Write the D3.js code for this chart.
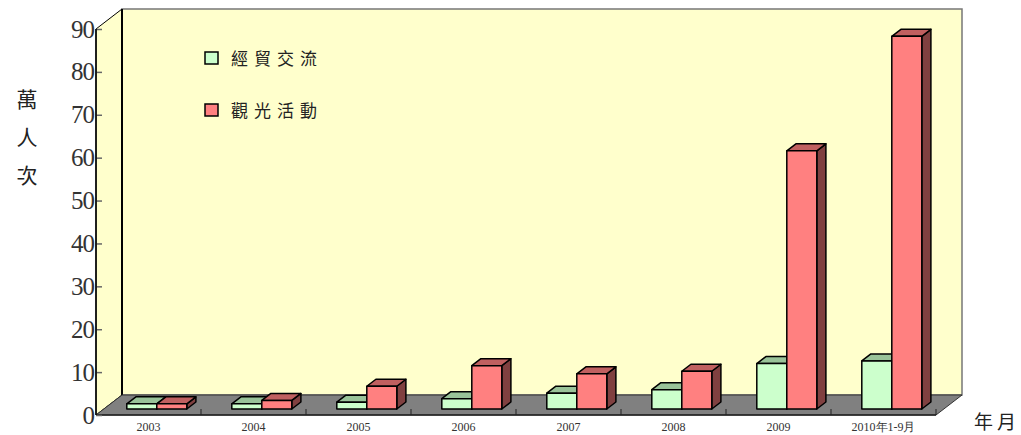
<!DOCTYPE html>
<html>
<head>
<meta charset="utf-8">
<script src="https://cdn.jsdelivr.net/npm/d3@7"></script>
<style>
  body { margin: 0; background: #fff; }
  svg { display: block; }
</style>
</head>
<body>
<div id="chart"></div>
<script>
// data (萬人次)
var years = ["2003", "2004", "2005", "2006", "2007", "2008", "2009", "2010年1-9月"];
var seriesNames = ["經貿交流", "觀光活動"];
var trade = [1.2, 1.2, 1.6, 2.4, 3.7, 4.5, 10.6, 11.2];
var tourism = [1.2, 2.0, 5.3, 10.1, 8.2, 8.8, 60.2, 86.9];
var yTicks = [0, 10, 20, 30, 40, 50, 60, 70, 80, 90];

var svgWidth = 1021, svgHeight = 435;
var frontLeft = 96, frontRight = 936;
var floorY = 415, topY = 29;
var depth = 20;            // wall depth in px (vertical shift)
var slant = 1.3;           // horizontal shift per px of depth

var svg = d3.select("#chart").append("svg")
  .attr("width", svgWidth)
  .attr("height", svgHeight);

var x = d3.scaleBand().domain(years).range([frontLeft, frontRight]);
var y = d3.scaleLinear().domain([0, 90]).range([floorY, topY]);

function p(px, py, d) { return [px + d * slant, py - d]; }
function poly(pts) { return pts.map(function(q) { return q.join(","); }).join(" "); }

// back wall
svg.append("polygon")
  .attr("points", poly([p(frontLeft, topY, depth), p(frontRight, topY, depth), p(frontRight, floorY, depth), p(frontLeft, floorY, depth)]))
  .attr("fill", "#ffffcc")
  .attr("stroke", "#777")
  .attr("stroke-width", 1.5);

// left wall
svg.append("polygon")
  .attr("points", poly([p(frontLeft, topY, 0), p(frontLeft, topY, depth), p(frontLeft, floorY, depth), p(frontLeft, floorY, 0)]))
  .attr("fill", "#ffffcc")
  .attr("stroke", "#000")
  .attr("stroke-width", 1);
svg.append("line")
  .attr("x1", p(frontLeft, 0, depth)[0]).attr("x2", p(frontLeft, 0, depth)[0])
  .attr("y1", topY - depth).attr("y2", floorY - depth)
  .attr("stroke", "#000").attr("stroke-width", 2);

// floor
svg.append("polygon")
  .attr("points", poly([p(frontLeft, floorY, 0), p(frontLeft, floorY, depth), p(frontRight, floorY, depth), p(frontRight, floorY, 0)]))
  .attr("fill", "#808080")
  .attr("stroke", "#333")
  .attr("stroke-width", 1);

// category dividers on floor front
svg.selectAll(".divider")
  .data(years.slice(1).concat(["end"]))
  .enter().append("line")
  .attr("x1", function(d) { return d === "end" ? frontRight : x(d); })
  .attr("x2", function(d) { return d === "end" ? frontRight : x(d); })
  .attr("y1", floorY - 6).attr("y2", floorY)
  .attr("stroke", "#222").attr("stroke-width", 1);
svg.append("line")
  .attr("x1", frontLeft).attr("x2", frontRight)
  .attr("y1", floorY).attr("y2", floorY)
  .attr("stroke", "#222").attr("stroke-width", 1.5);

// y axis
var yAxis = svg.append("g")
  .attr("transform", "translate(" + frontLeft + ",0)")
  .call(d3.axisLeft(y).tickValues(yTicks).tickSize(-6).tickPadding(2));
yAxis.select(".domain").remove();
yAxis.selectAll(".tick line").attr("stroke", "#666").attr("stroke-width", 1.5);
yAxis.selectAll(".tick text")
  .attr("fill", "#333")
  .style("font-family", "'Liberation Serif', serif")
  .style("font-size", "25px")
  .style("letter-spacing", "-1px");
svg.append("line")
  .attr("x1", frontLeft).attr("x2", frontLeft)
  .attr("y1", topY).attr("y2", floorY)
  .attr("stroke", "#000").attr("stroke-width", 1.5);

// x axis labels
var xAxis = svg.append("g")
  .attr("transform", "translate(0," + floorY + ")")
  .call(d3.axisBottom(x).tickSize(0).tickPadding(7));
xAxis.select(".domain").remove();
xAxis.selectAll(".tick text")
  .attr("fill", "#333")
  .style("font-family", "'Liberation Serif', serif")
  .style("font-size", "12px");

// 3d bars
var barW = 30, barOff = 23, dFront = 6, dBack = 13;
var styles = [
  { front: "#ccffcc", top: "#99c399", side: "#669966" },
  { front: "#ff8080", top: "#c06060", side: "#804040" }
];
var bars = [];
[trade, tourism].forEach(function(vals, s) {
  vals.forEach(function(v, i) { bars.push({ year: years[i], value: v, s: s }); });
});

var barG = svg.selectAll(".bar")
  .data(bars)
  .enter().append("g")
  .attr("class", "bar");

function corners(d) {
  var x0 = x(d.year) + barOff + d.s * barW, x1 = x0 + barW;
  var y0 = y(0), y1 = y(d.value);
  return { x0: x0, x1: x1, y0: y0, y1: y1 };
}

barG.append("polygon")
  .attr("points", function(d) {
    var c = corners(d);
    return poly([p(c.x1, c.y1, dFront), p(c.x1, c.y1, dBack), p(c.x1, c.y0, dBack), p(c.x1, c.y0, dFront)]);
  })
  .attr("fill", function(d) { return styles[d.s].side; })
  .attr("stroke", "#000").attr("stroke-width", 1.5).attr("stroke-linejoin", "round");

barG.append("polygon")
  .attr("points", function(d) {
    var c = corners(d);
    return poly([p(c.x0, c.y1, dFront), p(c.x0, c.y1, dBack), p(c.x1, c.y1, dBack), p(c.x1, c.y1, dFront)]);
  })
  .attr("fill", function(d) { return styles[d.s].top; })
  .attr("stroke", "#000").attr("stroke-width", 1.5).attr("stroke-linejoin", "round");

barG.append("polygon")
  .attr("points", function(d) {
    var c = corners(d);
    return poly([p(c.x0, c.y1, dFront), p(c.x1, c.y1, dFront), p(c.x1, c.y0, dFront), p(c.x0, c.y0, dFront)]);
  })
  .attr("fill", function(d) { return styles[d.s].front; })
  .attr("stroke", "#000").attr("stroke-width", 1.5).attr("stroke-linejoin", "round");

// legend
var legend = svg.selectAll(".legend")
  .data(seriesNames)
  .enter().append("g")
  .attr("class", "legend")
  .attr("transform", function(d, i) { return "translate(205," + (52 + i * 52) + ")"; });
legend.append("rect")
  .attr("width", 13).attr("height", 12)
  .attr("fill", function(d, i) { return styles[i].front; })
  .attr("stroke", "#000").attr("stroke-width", 1.5);
legend.append("text")
  .attr("x", 26).attr("y", 13)
  .style("font-family", "'Noto Sans CJK TC', sans-serif")
  .style("font-size", "17px")
  .style("letter-spacing", "6px")
  .attr("fill", "#222")
  .text(function(d) { return d; });

// axis titles
svg.selectAll(".ytitle")
  .data(["萬", "人", "次"])
  .enter().append("text")
  .attr("x", 27)
  .attr("y", function(d, i) { return 107 + i * 38; })
  .attr("text-anchor", "middle")
  .style("font-family", "'Noto Sans CJK TC', sans-serif")
  .style("font-size", "21px")
  .attr("fill", "#222")
  .text(function(d) { return d; });

svg.append("text")
  .attr("x", 974).attr("y", 429)
  .style("font-family", "'Noto Sans CJK TC', sans-serif")
  .style("font-size", "19px")
  .style("letter-spacing", "4px")
  .attr("fill", "#222")
  .text("年月");
</script>
</body>
</html>
